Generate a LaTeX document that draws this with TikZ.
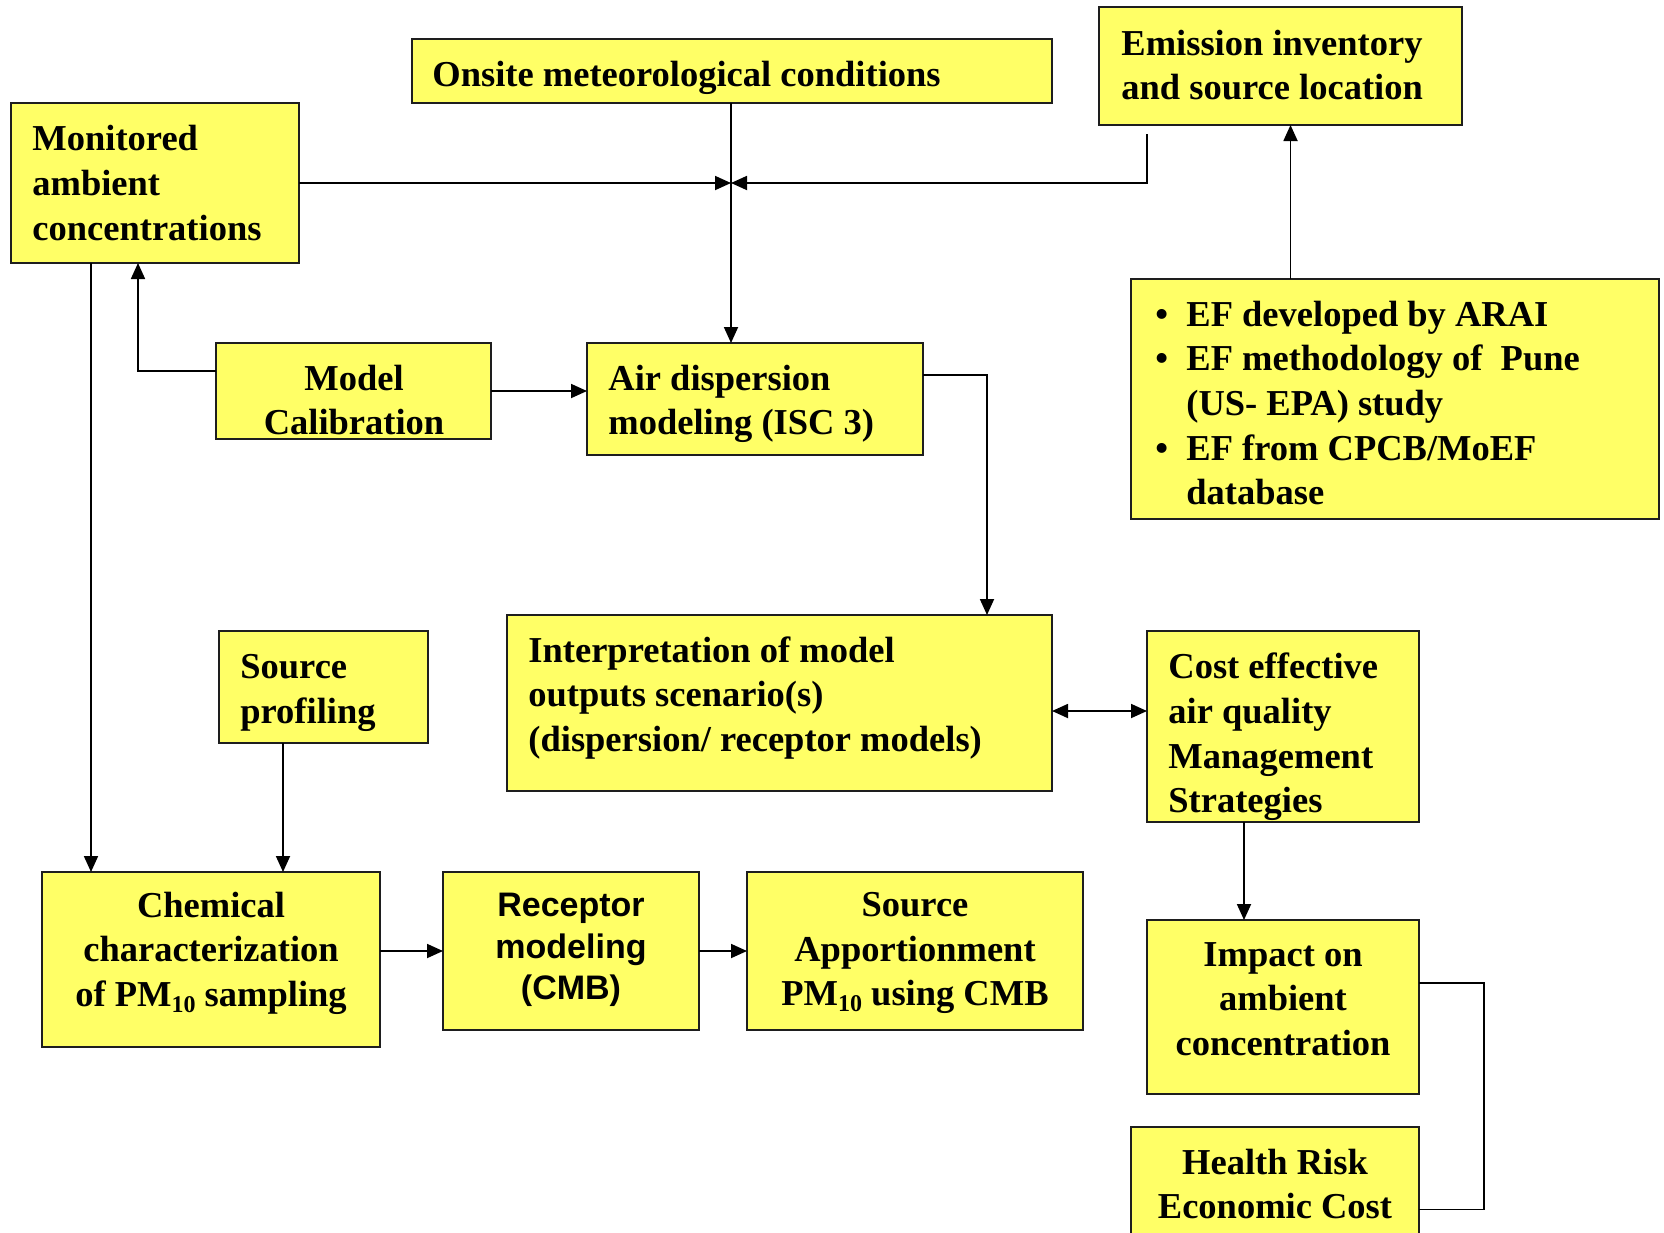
\documentclass[tikz,border=0pt]{standalone}
\usepackage{fontspec}
\setmainfont{Liberation Serif}
\newfontfamily\sansb{Liberation Sans}
\usetikzlibrary{arrows.meta}
\definecolor{boxyellow}{RGB}{255,255,102}
\definecolor{edgecol}{RGB}{30,30,30}
\newcommand\mkbox[5]{\node[box, minimum width={(#4-#2)*0.5pt}, minimum height={(#5-#3)*0.5pt}] (#1) at ({(#2+#4)/2},{(#3+#5)/2}) {};}
\newcommand\subten{\raisebox{-0.35ex}{\fontsize{12}{12}\selectfont 10}}
\newcommand\bul{\makebox[15.5pt][l]{\textbullet}}
\begin{document}
\begin{tikzpicture}[x=0.5pt,y=-0.5pt,
 box/.style={draw=edgecol, line width=1.1pt, fill=boxyellow, inner sep=0pt, outer sep=0pt},
 txt/.style={inner sep=0pt, font=\fontsize{18.25}{22.3}\selectfont\bfseries},
 stxt/.style={inner sep=0pt, font=\fontsize{17}{20.7}\selectfont\sansb\bfseries},
 conn/.style={line width=0.9pt, draw=black},
 arr/.style={conn, -{Triangle[length=8pt,width=7pt]}},
 arrb/.style={conn, {Triangle[length=8pt,width=7pt]}-{Triangle[length=8pt,width=7pt]}}]
\useasboundingbox (0,0) rectangle (1664,1232);
\fill[white] (0,0) rectangle (1664,1232);
\clip (0,0) rectangle (1664,1232);

% boxes
\mkbox{onsite}{412}{39}{1052}{103}
\mkbox{emis}{1099}{7}{1462}{125}
\mkbox{mon}{11}{103}{299}{263}
\mkbox{cal}{216}{343}{491}{439}
\mkbox{air}{587}{343}{923}{455}
\mkbox{ef}{1131}{279}{1659}{519}
\mkbox{interp}{507}{615}{1052}{791}
\mkbox{cost}{1147}{631}{1419}{822}
\mkbox{srcp}{219}{631}{428}{743}
\mkbox{chem}{42}{872}{380}{1047}
\mkbox{rec}{443}{872}{699}{1030}
\mkbox{sa}{747}{872}{1083}{1030}
\mkbox{imp}{1147}{920}{1419}{1094}
\mkbox{health}{1131}{1127}{1419}{1245}

% texts
\node[txt, anchor=west, align=left] (onsite-t) at (432,78) {Onsite meteorological conditions};
\node[txt, anchor=west, align=left] (emis-t) at (1121,65) {Emission inventory\\and source location};
\node[txt, anchor=west, align=left] (mon-t) at (32,183) {Monitored\\ambient\\concentrations};
\node[txt, align=center] (cal-t) at (354,400) {Model\\Calibration};
\node[txt, anchor=west, align=left] (air-t) at (608,404) {Air dispersion\\modeling (ISC 3)};
\node[txt, anchor=west, align=left] (ef-t) at (1155,403) {\bul EF developed by ARAI\\\bul EF methodology of~ Pune\\\hspace*{15.5pt}(US- EPA) study\\\bul EF from CPCB/MoEF\\\hspace*{15.5pt}database};
\node[txt, anchor=west, align=left] (interp-t) at (528,698) {Interpretation of model\\outputs scenario(s)\\(dispersion/ receptor models)};
\node[txt, anchor=west, align=left] (cost-t) at (1168,737) {Cost effective\\air quality\\Management\\Strategies};
\node[txt, anchor=west, align=left] (srcp-t) at (240,693) {Source\\profiling};
\node[txt, align=center] (chem-t) at (211,953) {Chemical\\characterization\\of PM\subten{} sampling};
\node[stxt, align=center] (rec-t) at (571,950) {Receptor\\modeling\\(CMB)};
\node[txt, align=center] (sa-t) at (915,953) {Source\\Apportionment\\PM\subten{} using CMB};
\node[txt, align=center] (imp-t) at (1283,999) {Impact on\\ambient\\concentration};
\node[txt, align=center] (health-t) at (1275,1184) {Health Risk\\Economic Cost};

% connectors
\coordinate (jn) at (731,183);
\coordinate (e0) at (1147,134);
\draw[arr] (mon.east |- jn) -- (jn);
\draw[arr] (e0) |- (jn);
\draw[arr] (onsite.south -| jn) -- (air.north -| jn);
\draw[arr] ([xshift=5pt]emis.south |- ef.north) -- ([xshift=5pt]emis.south);
\draw[arr] ([yshift=10pt]cal.west) -| ([xshift=-8.5pt]mon.south);
\draw[arr] (cal.east) -- (cal.east -| air.west);
\draw[arr] ([yshift=12pt]air.east) -| ([xshift=103.75pt]interp.north);
\draw[arr] ([xshift=-32pt]mon.south) -- ([xshift=-32pt]mon.south |- chem.north);
\draw[arr] ([xshift=-20.25pt]srcp.south) -- ([xshift=-20.25pt]srcp.south |- chem.north);
\draw[arrb] ([yshift=-4pt]interp.east) -- ([yshift=-4pt]interp.east -| cost.west);
\draw[arr] (chem.east |- rec.west) -- (rec.west);
\draw[arr] (rec.east) -- (sa.west);
\draw[arr] ([xshift=-19.5pt]cost.south) -- ([xshift=-19.5pt]cost.south |- imp.north);
\draw[conn] ([yshift=12pt]imp.east) -- ++(32.5pt,0) |- ([yshift=-11.75pt]health.east);
\end{tikzpicture}
\end{document}
